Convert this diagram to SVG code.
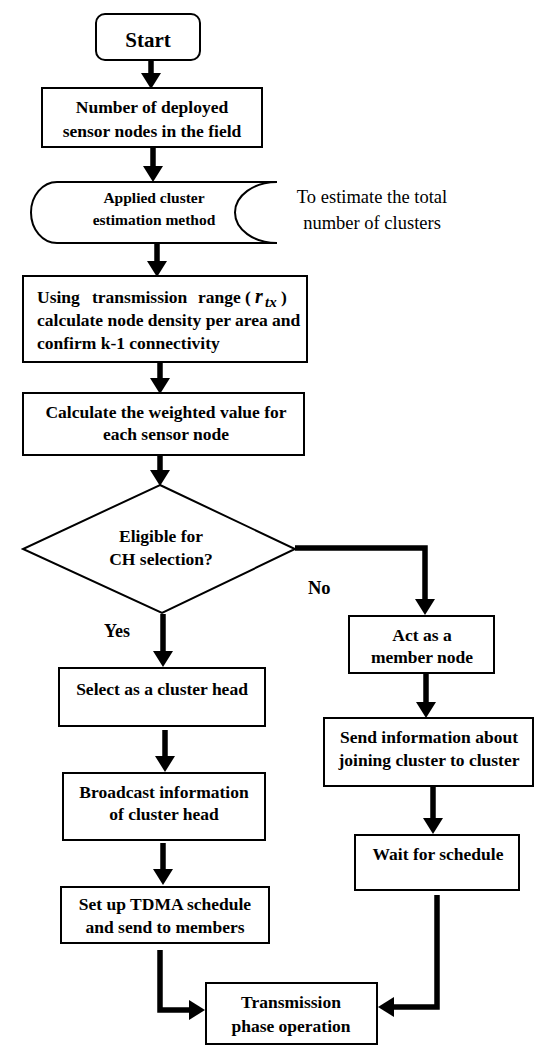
<svg xmlns="http://www.w3.org/2000/svg" width="550" height="1061" viewBox="0 0 550 1061">
<style>
.box{fill:#fff;stroke:#000;stroke-width:2}
.t{font-family:"Liberation Serif","Times New Roman",serif;font-weight:bold;font-size:17.5px;fill:#000;text-anchor:middle}
.l{text-anchor:start}
.side{font-family:"Liberation Serif","Times New Roman",serif;font-size:18.5px;fill:#000;text-anchor:middle}
.c{fill:none;stroke:#000;stroke-width:5.5}
</style>
<defs>
<marker id="ah" markerUnits="userSpaceOnUse" markerWidth="16" markerHeight="20" viewBox="0 0 16 20" refX="0" refY="10" orient="auto">
<path d="M0,0 L16,10 L0,20 Z" fill="#000"/>
</marker>
</defs>
<rect width="550" height="1061" fill="#fff"/>
<g id="connectors">
<path class="c" d="M151,60 V73" marker-end="url(#ah)"/>
<path class="c" d="M153,147 V166" marker-end="url(#ah)"/>
<path class="c" d="M157,243 V261" marker-end="url(#ah)"/>
<path class="c" d="M160,362 V378" marker-end="url(#ah)"/>
<path class="c" d="M160,455 V470" marker-end="url(#ah)"/>
<path class="c" d="M295,548 H425 V599" stroke-linejoin="miter" marker-end="url(#ah)"/>
<path class="c" d="M163,614 V651" marker-end="url(#ah)"/>
<path class="c" d="M165,730 V756" marker-end="url(#ah)"/>
<path class="c" d="M163,843 V869" marker-end="url(#ah)"/>
<path class="c" d="M426,673 V702" marker-end="url(#ah)"/>
<path class="c" d="M433,786 V818" marker-end="url(#ah)"/>
<path class="c" d="M160,950 V1010 H189" marker-end="url(#ah)"/>
<path class="c" d="M437,895 V1007 H394" marker-end="url(#ah)"/>
</g>
<g id="start">
<rect class="box" x="96" y="14" width="104" height="46" rx="9"/>
<text class="t" x="148" y="47" style="font-size:21px">Start</text>
</g>
<g id="deployed">
<rect class="box" x="42" y="88" width="220" height="59"/>
<text class="t" x="152" y="113">Number of deployed</text>
<text class="t" x="152" y="137">sensor nodes in the field</text>
</g>
<g id="estimation">
<path class="box" d="M57,182 H277 A42,30.5 0 0 0 277,243 H57 A26,30.5 0 0 1 57,182 Z"/>
<text class="t" x="154" y="203" style="font-size:15.5px">Applied cluster</text>
<text class="t" x="154" y="225" style="font-size:15.5px">estimation method</text>
</g>
<g id="note">
<text class="side" x="372" y="203">To estimate the total</text>
<text class="side" x="372" y="229">number of clusters</text>
</g>
<g id="density">
<rect class="box" x="23" y="276" width="284" height="86"/>
<text class="t l" y="303"><tspan x="37">Using</tspan><tspan x="92">transmission</tspan><tspan x="198">range</tspan><tspan x="245">(</tspan><tspan x="255" font-style="italic" font-size="20">r</tspan><tspan x="265" dy="4" font-style="italic" font-size="15">tx</tspan><tspan x="281" dy="-4">)</tspan></text>
<text class="t l" x="37" y="326">calculate node density per area and</text>
<text class="t l" x="37" y="349">confirm k-1 connectivity</text>
</g>
<g id="weighted">
<rect class="box" x="23" y="393" width="281" height="62"/>
<text class="t" x="166" y="418">Calculate the weighted value for</text>
<text class="t" x="166" y="440">each sensor node</text>
</g>
<g id="eligible">
<path class="box" d="M160,485 L295,549 L162,613 L23,549 Z"/>
<text class="t" x="161" y="542">Eligible for</text>
<text class="t" x="161" y="565">CH selection?</text>
</g>
<g id="labels">
<text class="t l" x="308" y="594" style="font-size:18.5px">No</text>
<text class="t l" x="104" y="637" style="font-size:18px">Yes</text>
</g>
<g id="select">
<rect class="box" x="59" y="668" width="206" height="58"/>
<text class="t" x="162" y="695">Select as a cluster head</text>
</g>
<g id="broadcast">
<rect class="box" x="63" y="773" width="202" height="67"/>
<text class="t" x="164" y="798">Broadcast information</text>
<text class="t" x="164" y="820">of cluster head</text>
</g>
<g id="tdma">
<rect class="box" x="61" y="887" width="208" height="56"/>
<text class="t" x="165" y="910">Set up TDMA schedule</text>
<text class="t" x="165" y="933">and send to members</text>
</g>
<g id="member">
<rect class="box" x="349" y="616" width="145" height="57"/>
<text class="t" x="422" y="641">Act as a</text>
<text class="t" x="422" y="663">member node</text>
</g>
<g id="join">
<rect class="box" x="324" y="718" width="209" height="68"/>
<text class="t" x="429" y="743">Send information about</text>
<text class="t" x="429" y="766">joining cluster to cluster</text>
</g>
<g id="wait">
<rect class="box" x="355" y="835" width="164" height="55"/>
<text class="t" x="438" y="860">Wait for schedule</text>
</g>
<g id="transmission">
<rect class="box" x="206" y="983" width="171" height="61"/>
<text class="t" x="291" y="1008">Transmission</text>
<text class="t" x="291" y="1032">phase operation</text>
</g>
</svg>
